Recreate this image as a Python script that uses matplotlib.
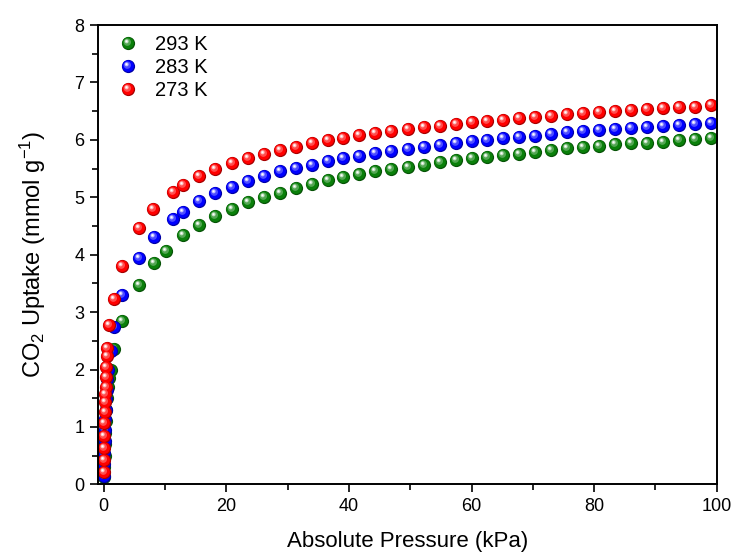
import matplotlib
matplotlib.use("Agg")
import numpy as np
import matplotlib.pyplot as plt
from matplotlib.path import Path
from matplotlib.legend_handler import HandlerTuple
from matplotlib.ticker import MultipleLocator

plt.rcParams["font.family"] = ["Liberation Sans", "DejaVu Sans"]
plt.rcParams["mathtext.default"] = "regular"

# shared pressure steps above ~13 kPa (kPa)
p_high = [13.0, 15.6, 18.2, 20.9, 23.5, 26.1, 28.7, 31.3, 33.9, 36.5, 39.1, 41.7,
          44.3, 46.9, 49.6, 52.2, 54.8, 57.4, 60.0, 62.6, 65.2, 67.8, 70.4, 73.0,
          75.6, 78.2, 80.8, 83.4, 86.0, 88.6, 91.2, 93.8, 96.4, 99.0]

# 293 K
p_293_low = [0.03, 0.07, 0.12, 0.18, 0.25, 0.33, 0.43, 0.55, 0.7, 0.9, 1.15, 1.6,
             2.9, 5.7, 8.2, 10.1]
q_293_low = [0.12, 0.3, 0.5, 0.7, 0.9, 1.1, 1.3, 1.5, 1.7, 1.85, 1.99, 2.36,
             2.85, 3.48, 3.86, 4.07]
q_293_high = [4.35, 4.52, 4.67, 4.80, 4.91, 5.00, 5.08, 5.16, 5.23, 5.30, 5.35, 5.40,
              5.45, 5.49, 5.53, 5.57, 5.61, 5.65, 5.68, 5.71, 5.74, 5.76, 5.79, 5.83,
              5.85, 5.87, 5.90, 5.92, 5.94, 5.95, 5.97, 5.99, 6.01, 6.03]

# 283 K
p_283_low = [0.02, 0.05, 0.09, 0.13, 0.18, 0.24, 0.3, 0.38, 0.48, 0.6, 0.75, 1.25,
             1.7, 2.9, 5.7, 8.2, 11.3]
q_283_low = [0.15, 0.35, 0.55, 0.75, 0.95, 1.13, 1.3, 1.48, 1.65, 1.83, 2.0, 2.33,
             2.74, 3.29, 3.94, 4.31, 4.63]
q_283_high = [4.75, 4.94, 5.07, 5.18, 5.28, 5.37, 5.45, 5.51, 5.57, 5.63, 5.68, 5.72,
              5.77, 5.81, 5.84, 5.88, 5.91, 5.94, 5.98, 6.00, 6.03, 6.05, 6.07, 6.10,
              6.13, 6.15, 6.17, 6.19, 6.21, 6.23, 6.24, 6.26, 6.27, 6.29]

# 273 K
p_273_low = [0.0, 0.02, 0.04, 0.07, 0.1, 0.14, 0.18, 0.22, 0.28, 0.33, 0.4, 0.48,
             0.55, 0.87, 1.6, 2.9, 5.7, 8.05, 11.3]
q_273_low = [0.21, 0.42, 0.63, 0.85, 1.07, 1.26, 1.43, 1.57, 1.69, 1.87, 2.04, 2.23,
             2.38, 2.77, 3.22, 3.81, 4.46, 4.79, 5.10]
q_273_high = [5.21, 5.37, 5.49, 5.59, 5.68, 5.76, 5.83, 5.88, 5.94, 5.99, 6.04, 6.08,
              6.12, 6.16, 6.19, 6.22, 6.25, 6.28, 6.31, 6.33, 6.35, 6.38, 6.40, 6.42,
              6.45, 6.47, 6.49, 6.50, 6.52, 6.53, 6.55, 6.57, 6.58, 6.60]

series = [
    ("293 K", "#0a800a", p_293_low + p_high, q_293_low + q_293_high),
    ("283 K", "#0000ff", p_283_low + p_high, q_283_low + q_283_high),
    ("273 K", "#ff0000", p_273_low + p_high, q_273_low + q_273_high),
]


def disc(cx, cy, r):
    """Circle path inside the unit marker box; the anchor point keeps the
    marker scale fixed so offset discs stay where they are put."""
    circ = Path.unit_circle()
    verts = circ.vertices * r + [cx, cy]
    verts = np.vstack([[[0.5, 0.0]], verts])
    codes = np.concatenate([[Path.MOVETO], circ.codes])
    return Path(verts, codes)


def tint(color, amount):
    rgb = np.array(matplotlib.colors.to_rgb(color))
    return tuple(rgb + (1 - rgb) * amount)


def shade(color, amount):
    rgb = np.array(matplotlib.colors.to_rgb(color))
    return tuple(rgb * (1 - amount))


# layered discs give each point a glossy sphere look
layers = [
    (disc(0.0, 0.0, 0.5), lambda c: shade(c, 0.35)),
    (disc(-0.03, 0.03, 0.44), lambda c: c),
    (disc(-0.09, 0.10, 0.28), lambda c: tint(c, 0.3)),
    (disc(-0.14, 0.16, 0.15), lambda c: tint(c, 0.75)),
    (disc(-0.15, 0.17, 0.07), lambda c: "white"),
]

fig = plt.figure(figsize=(7.35, 5.54), dpi=100)
ax = fig.add_axes([0.1329, 0.1257, 0.8422, 0.8291])

ms = 9.5
handles = []
for label, color, p, q in series:
    parts = []
    for path, col in layers:
        ln, = ax.plot(p, q, ls="none", marker=path, ms=ms,
                      mfc=col(color), mec="none")
        parts.append(ln)
    handles.append(tuple(parts))

ax.set_xlim(-1, 100)
ax.set_ylim(0, 8)
ax.xaxis.set_major_locator(MultipleLocator(20))
ax.xaxis.set_minor_locator(MultipleLocator(10))
ax.yaxis.set_major_locator(MultipleLocator(1))
ax.yaxis.set_minor_locator(MultipleLocator(0.5))
ax.tick_params(which="major", direction="out", length=6, width=1.2,
               labelsize=13, top=False, right=False)
ax.tick_params(which="minor", direction="out", length=4, width=1.2,
               top=False, right=False)
for s in ax.spines.values():
    s.set_linewidth(1.4)

ax.set_xlabel("Absolute Pressure (kPa)", fontsize=16, labelpad=12)
ax.set_ylabel("CO$_2$ Uptake (mmol g$^{-1}$)", fontsize=17, labelpad=19)

ax.legend(handles, [s[0] for s in series],
          handler_map={tuple: HandlerTuple(ndivide=1, pad=0)},
          loc="upper left", bbox_to_anchor=(0.034, 0.978), frameon=False,
          fontsize=14.5, handlelength=0.9, handletextpad=0.9,
          labelspacing=0.2, borderaxespad=0, borderpad=0)

fig.savefig("out.png", dpi=100)
